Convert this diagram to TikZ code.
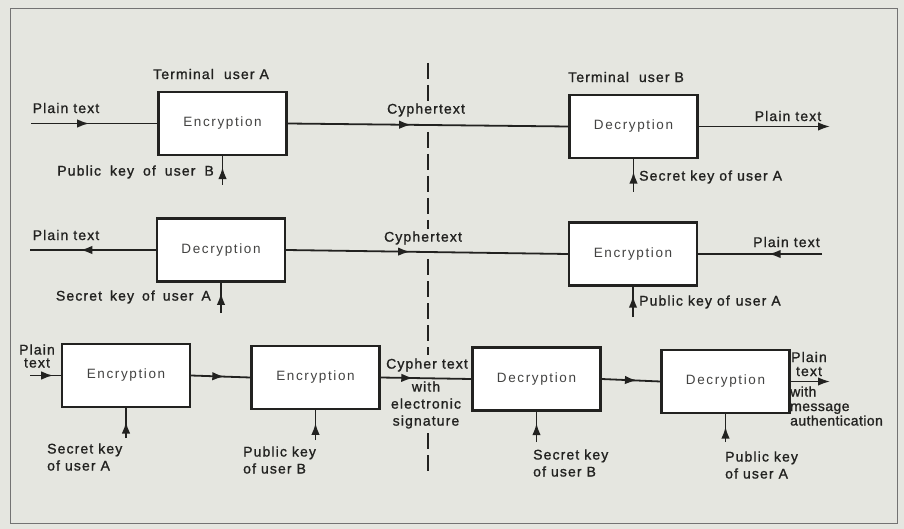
\documentclass[tikz,border=0pt]{standalone}
\usepackage{fontspec}
\setmainfont{Liberation Sans}[LetterSpace=8]
\newfontfamily\boxfont{Liberation Sans}[LetterSpace=12]
\newfontfamily\lblfont{Liberation Sans}[LetterSpace=8, FakeBold=1.2]
\newfontfamily\tightfont{Liberation Sans}[LetterSpace=3, FakeBold=1.2]
\usetikzlibrary{arrows.meta,decorations.markings}
\definecolor{paper}{RGB}{229,230,224}
\definecolor{ink}{RGB}{34,34,32}
\tikzset{
  blk/.style={draw=ink, fill=white, line width=2.1pt, minimum width=128pt, minimum height=63pt, inner sep=0pt, text=ink!85, font=\boxfont\fontsize{13.5}{15}\selectfont},
  conn/.style={draw=ink, line width=1.8pt},
  lbl/.style={inner sep=1pt, text=ink, font=\lblfont\fontsize{14}{17}\selectfont},
  lblf/.style={lbl, fill=paper},
  midarrow/.style={postaction={decorate}, decoration={markings, mark=at position #1 with {\arrow{Latex[length=12pt,width=8.5pt]}}}},
  endarrow/.style={-{Latex[length=12pt,width=8.5pt]}},
  sep/.style={ink, line width=1.9pt, dash pattern=on 16pt off 6pt}
}
\begin{document}
\begin{tikzpicture}[x=1pt,y=-1pt]
\fill[paper] (0,0) rectangle (904,529);
\useasboundingbox (0,0) rectangle (904,529);
\draw[black!55, line width=0.9pt] (10,8) rectangle (897,523);

% boxes
\node[blk] (E1) at (222.5,123.5) {Encryption};
\node[blk] (D1) at (633.5,126.5) {Decryption};
\node[blk] (D2) at (221,250) {Decryption};
\node[blk] (E2) at (633,254) {Encryption};
\node[blk] (E3a) at (126,375.5) {Encryption};
\node[blk] (E3b) at (315.5,377.5) {Encryption};
\node[blk] (D3a) at (536.5,379) {Decryption};
\node[blk] (D3b) at (725.5,381.5) {Decryption};

% dashed separator (interrupted at the labels)
\coordinate (s1a) at (428,63);  \coordinate (s1b) at (428,103);
\coordinate (s2a) at (428,132); \coordinate (s2b) at (428,229);
\coordinate (s3a) at (428,259); \coordinate (s3b) at (428,355);
\coordinate (s4a) at (428,433); \coordinate (s4b) at (428,473);
\draw[sep] (s1a) -- (s1b);
\draw[sep] (s2a) -- (s2b);
\draw[sep] (s3a) -- (s3b);
\draw[sep] (s4a) -- (s4b);

% free ends
\coordinate (in1) at (31,123.5);
\coordinate (k1) at (222.5,185);
\coordinate (o1) at (830,126.5);
\coordinate (k2) at (633.5,192);
\coordinate (o2) at (30,250);
\coordinate (k3) at (221,313);
\coordinate (i2) at (822,254);
\coordinate (k4) at (633,317);
\coordinate (i3) at (30,375.5);
\coordinate (k5) at (126,438);
\coordinate (k6) at (315.5,440);
\coordinate (k7) at (536.5,442);
\coordinate (o3) at (830,381.5);
\coordinate (k8) at (725.5,442);

% labels
\node[lbl, anchor=west] (tA) at (152,74) {Terminal\hspace{10pt}user A};
\node[lbl] (pt1) at (66,108) {Plain text};
\node[lbl, anchor=east] (pkB1) at (215,172) {Public\hspace{9pt}key\hspace{9pt}of\hspace{9pt}user\hspace{9pt}B};
\node[lblf] (ct1) at (426,110) {Cyphertext};
\node[lbl, anchor=west] (tB) at (567,77) {Terminal\hspace{10pt}user B};
\node[lbl] (pt2) at (788,116) {Plain text};
\node[lbl, anchor=west] (skA1) at (638,177) {Secret key of user A};

\node[lbl] (pt3) at (66,235) {Plain text};
\node[lbl, anchor=east] (skA2) at (212,297) {Secret\hspace{8pt}key\hspace{8pt}of\hspace{8pt}user\hspace{8pt}A};
\node[lblf] (ct2) at (423,238) {Cyphertext};
\node[lbl, anchor=west] (pt4) at (752,242) {Plain text};
\node[lbl, anchor=west] (pkA1) at (638,302) {Public key of\hspace{6pt}user A};

\node[lbl, align=center, font=\lblfont\fontsize{14}{13}\selectfont] (pt5) at (37,356) {Plain\\text};
\node[lbl, align=left, anchor=west] (skA3) at (46,457) {Secret key\\of user A};
\node[lbl, align=left, anchor=west] (pkB2) at (242,460) {Public key\\of user B};
\node[lblf] (ct3) at (427,365) {Cypher text};
\node[lblf, align=center] (sig) at (426,405) {with\\electronic\\signature};
\node[lbl, align=left, anchor=west] (skB) at (532,463) {Secret key\\of user B};
\node[lbl, align=center, font=\lblfont\fontsize{14}{14}\selectfont] (pt6) at (809,364) {Plain\\text};
\node[lbl, align=left, anchor=west, font=\tightfont\fontsize{14}{14.5}\selectfont] (auth) at (789,406) {with\\message\\authentication};
\node[lbl, align=left, anchor=west] (pkA2) at (724,465) {Public key\\of user A};

% connectors row 1
\draw[conn, midarrow=0.46] (in1) -- (E1.west);
\draw[conn, midarrow=0.44] (E1.east) -- (D1.west);
\draw[conn, midarrow=0.62] (k1) -- (E1.south);
\draw[conn, endarrow] (D1.east) -- (o1);
\draw[conn, midarrow=0.62] (k2) -- (D1.south);

% row 2
\draw[conn, midarrow=0.6] (D2.west) -- (o2);
\draw[conn, midarrow=0.44] (D2.east) -- (E2.west);
\draw[conn, midarrow=0.66] (k3) -- (D2.south);
\draw[conn, midarrow=0.43] (i2) -- (E2.east);
\draw[conn, midarrow=0.7] (k4) -- (E2.south);

% row 3
\draw[conn, midarrow=0.75] (i3) -- (E3a.west);
\draw[conn, midarrow=0.56] (E3a.east) -- (E3b.west);
\draw[conn, midarrow=0.55] (k5) -- (E3a.south);
\draw[conn, midarrow=0.57] (k6) -- (E3b.south);
\draw[conn, midarrow=0.36] (E3b.east) -- (D3a.west);
\draw[conn, midarrow=0.62] (k7) -- (D3a.south);
\draw[conn, midarrow=0.6] (D3a.east) -- (D3b.west);
\draw[conn, endarrow] (D3b.east) -- (o3);
\draw[conn, midarrow=0.55] (k8) -- (D3b.south);
\end{tikzpicture}
\end{document}
